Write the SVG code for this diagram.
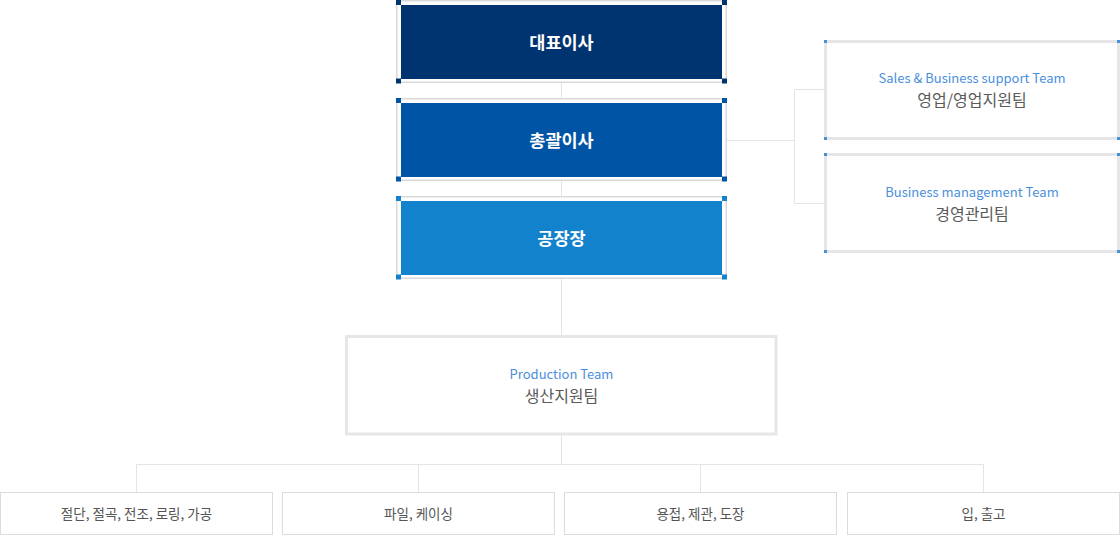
<svg xmlns="http://www.w3.org/2000/svg" width="1120" height="535" viewBox="0 0 1120 535">
<style>
  .ln { stroke: #e4e4e4; stroke-width: 1; fill: none; }
  .frame { fill: #ffffff; stroke: #d9d9d9; stroke-width: 1.5; }
  .title { font-family: "Noto Sans CJK KR", "Noto Sans", sans-serif; font-size: 17.5px; font-weight: 700; fill: #ffffff; text-anchor: middle; }
  .team { fill: #ffffff; stroke: #e6e6e6; stroke-width: 3; }
  .en { font-family: "Noto Sans CJK KR", "Noto Sans", sans-serif; font-size: 13px; fill: #4a8fdc; text-anchor: middle; }
  .ko { font-family: "Noto Sans CJK KR", sans-serif; font-size: 16px; fill: #5a5a5a; text-anchor: middle; }
  .sub { fill: #ffffff; stroke: #dcdcdc; stroke-width: 1; }
  .subt { font-family: "Noto Sans CJK KR", sans-serif; font-size: 13.5px; fill: #555555; text-anchor: middle; }
  .bc { fill: #4a8fd8; }
</style>
<rect width="1120" height="535" fill="#ffffff"/>
<g id="connectors">
  <line class="ln" x1="561.5" y1="0" x2="561.5" y2="464.5"/>
  <line class="ln" x1="727" y1="140.5" x2="794.5" y2="140.5"/>
  <line class="ln" x1="794.5" y1="89.5" x2="794.5" y2="203.5"/>
  <line class="ln" x1="794.5" y1="89.5" x2="824" y2="89.5"/>
  <line class="ln" x1="794.5" y1="203.5" x2="824" y2="203.5"/>
  <line class="ln" x1="136.5" y1="464.5" x2="983.5" y2="464.5"/>
  <line class="ln" x1="136.5" y1="464.5" x2="136.5" y2="492"/>
  <line class="ln" x1="418.5" y1="464.5" x2="418.5" y2="492"/>
  <line class="ln" x1="700.5" y1="464.5" x2="700.5" y2="492"/>
  <line class="ln" x1="983.5" y1="464.5" x2="983.5" y2="492"/>
</g>
<g id="ceo">
  <rect class="frame" x="396.75" y="0.75" width="329.5" height="81.5"/>
  <rect x="401" y="5" width="321" height="74" fill="#003470"/>
  <g fill="#003470">
    <rect x="396" y="0" width="5" height="5"/><rect x="722" y="0" width="5" height="5"/>
    <rect x="396" y="78.5" width="5" height="5"/><rect x="722" y="78.5" width="5" height="5"/>
  </g>
  <text class="title" x="561.5" y="49">대표이사</text>
</g>
<g id="gm">
  <rect class="frame" x="396.75" y="98.75" width="329.5" height="81.5"/>
  <rect x="401" y="103" width="321" height="74" fill="#0054a5"/>
  <g fill="#0054a5">
    <rect x="396" y="98" width="5" height="5"/><rect x="722" y="98" width="5" height="5"/>
    <rect x="396" y="176.5" width="5" height="5"/><rect x="722" y="176.5" width="5" height="5"/>
  </g>
  <text class="title" x="561.5" y="147">총괄이사</text>
</g>
<g id="plant">
  <rect class="frame" x="396.75" y="196.75" width="329.5" height="81.5"/>
  <rect x="401" y="201" width="321" height="74" fill="#1282cc"/>
  <g fill="#1282cc">
    <rect x="396" y="196" width="5" height="5"/><rect x="722" y="196" width="5" height="5"/>
    <rect x="396" y="274.5" width="5" height="5"/><rect x="722" y="274.5" width="5" height="5"/>
  </g>
  <text class="title" x="561.5" y="245">공장장</text>
</g>
<g id="sales">
  <rect class="team" x="825.5" y="41.5" width="293" height="97"/>
  <rect class="bc" x="824" y="40" width="3" height="3"/><rect class="bc" x="1117" y="40" width="3" height="3"/>
  <rect class="bc" x="824" y="137" width="3" height="3"/><rect class="bc" x="1117" y="137" width="3" height="3"/>
  <text class="en" x="972" y="83">Sales &amp; Business support Team</text>
  <text class="ko" x="972" y="105.5">영업/영업지원팀</text>
</g>
<g id="management">
  <rect class="team" x="825.5" y="154.5" width="293" height="97"/>
  <rect class="bc" x="824" y="153" width="3" height="3"/><rect class="bc" x="1117" y="153" width="3" height="3"/>
  <rect class="bc" x="824" y="250" width="3" height="3"/><rect class="bc" x="1117" y="250" width="3" height="3"/>
  <text class="en" x="972" y="197">Business management Team</text>
  <text class="ko" x="972" y="219.5">경영관리팀</text>
</g>
<g id="production">
  <rect class="team" x="346.5" y="336.5" width="429.5" height="97.5"/>
  <text class="en" x="561.5" y="379">Production Team</text>
  <text class="ko" x="561.5" y="401.5">생산지원팀</text>
</g>
<g id="cutting">
  <rect class="sub" x="0.5" y="492.5" width="272" height="42"/>
  <text class="subt" x="136.5" y="518.5">절단, 절곡, 전조, 로링, 가공</text>
</g>
<g id="piling">
  <rect class="sub" x="282.5" y="492.5" width="272" height="42"/>
  <text class="subt" x="418.5" y="518.5">파일, 케이싱</text>
</g>
<g id="welding">
  <rect class="sub" x="564.5" y="492.5" width="272" height="42"/>
  <text class="subt" x="700.5" y="518.5">용접, 제관, 도장</text>
</g>
<g id="shipping">
  <rect class="sub" x="847.5" y="492.5" width="272" height="42"/>
  <text class="subt" x="983.5" y="518.5">입, 출고</text>
</g>
</svg>
